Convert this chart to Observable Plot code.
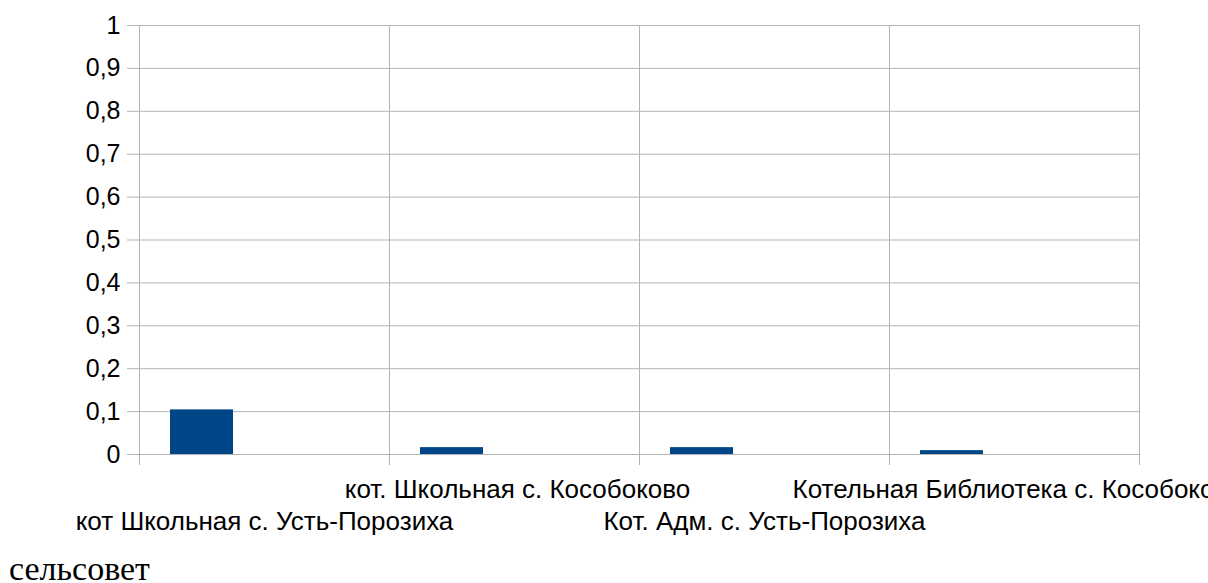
<!DOCTYPE html>
<html>
<head>
<meta charset="utf-8">
<script src="https://cdn.jsdelivr.net/npm/d3@7"></script>
<script src="https://cdn.jsdelivr.net/npm/@observablehq/plot@0.6"></script>
<style>
  html, body { margin: 0; padding: 0; background: #fff; overflow: hidden; }
  #chart { position: absolute; left: 0; top: 0; }
  #caption { position: absolute; left: 9px; top: 552px; font-family: "Liberation Serif", "DejaVu Serif", serif; font-size: 34px; line-height: 34px; color: #000; white-space: nowrap; }
</style>
</head>
<body>
<div id="chart"></div>
<div id="caption">сельсовет</div>
<script>
const categories = [
  "кот Школьная с. Усть-Порозиха",
  "кот. Школьная с. Кособоково",
  "Кот. Адм. с. Усть-Порозиха",
  "Котельная Библиотека с. Кособоково"
];
const values = [0.104, 0.016, 0.016, 0.009];
const yTicks = [0, 0.1, 0.2, 0.3, 0.4, 0.5, 0.6, 0.7, 0.8, 0.9, 1];
const labelRow = [1, 0, 1, 0]; // 0 = upper row, 1 = lower row

const data = categories.map((c, i) => ({ i, c, v: values[i], row: labelRow[i] }));
const boundaries = d3.range(categories.length + 1);
const grid = "#b3b3b3";

const chart = Plot.plot({
  width: 1208,
  height: 545,
  marginLeft: 139,
  marginRight: 69,
  marginTop: 25,
  marginBottom: 91,
  style: { fontFamily: "'Liberation Sans', Arial, sans-serif", color: "#000", background: "#fff" },
  x: { type: "linear", domain: [0, categories.length], axis: null },
  y: { domain: [0, 1], axis: null },
  marks: [
    Plot.ruleY(yTicks, { y: d => d, x1: 0, x2: categories.length, stroke: grid, strokeWidth: 1, insetLeft: -12 }),
    Plot.ruleX(boundaries, { x: d => d, stroke: grid, strokeWidth: 1, insetBottom: -11 }),
    Plot.rectY(data, { x1: "i", x2: d => d.i + 1, y1: 0, y2: "v", fill: "#004586", insetLeft: 31, insetRight: 156 }),
    Plot.text(yTicks, { x: 0, y: d => d, text: d => String(d).replace(".", ","), textAnchor: "end", dx: -19, fontSize: 25, fill: "#000" }),
    Plot.text(data.filter(d => d.row === 0), { x: d => d.i + 0.5, y: 0, text: "c", dx: 3, dy: 35, fontSize: 26, fill: "#000" }),
    Plot.text(data.filter(d => d.row === 1), { x: d => d.i + 0.5, y: 0, text: "c", dy: 67, fontSize: 26, fill: "#000" })
  ]
});
document.getElementById("chart").appendChild(chart);
</script>
</body>
</html>
